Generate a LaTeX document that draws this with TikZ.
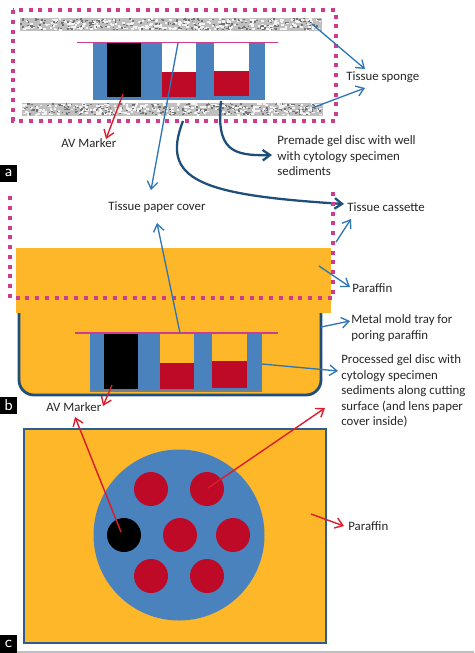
\documentclass[tikz,border=0pt]{standalone}
\usepackage{fontspec}
\setmainfont{Carlito}
\usetikzlibrary{arrows.meta}

\definecolor{waxorange}{HTML}{FDB728}
\definecolor{gelblue}{HTML}{4A82BE}
\definecolor{specred}{HTML}{BE0A26}
\definecolor{dotpink}{HTML}{CC3D8F}
\definecolor{darkblue}{HTML}{1F4E79}
\definecolor{arrowblue}{HTML}{2E75B6}
\definecolor{arrowred}{HTML}{D81E2C}

\tikzset{
  >={Straight Barb[length=4.2pt, width=6pt]},
  lab/.style={inner sep=0pt, anchor=west, align=left, text=black!85, font=\fontsize{7.3}{8.85}\selectfont},
  tag/.style={fill=black, text=white, inner sep=0pt, minimum width=17\pxu, minimum height=17\pxu, font=\sffamily\fontsize{9}{9}\selectfont},
  cassette/.style={dotpink, line width=2.3pt, dash pattern=on 2.3pt off 3.25pt},
  bluearrow/.style={->, arrowblue, line width=0.75pt},
  redarrow/.style={->, arrowred, line width=0.8pt},
  thickarrow/.style={->, darkblue, line width=1.3pt},
  cover/.style={dotpink, line width=0.6pt}
}
\newlength{\pxu}
\setlength{\pxu}{0.02cm}

% sponge bar: left, top, right, bottom
\newcommand{\spongebar}[4]{
  \fill[gray!50] (#1,#2) rectangle (#3,#4);
  \foreach \i in {1,...,520}{
    \pgfmathsetmacro{\dx}{#1+rnd*(#3-#1-3)}
    \pgfmathsetmacro{\dy}{#2+rnd*(#4-#2-2)}
    \pgfmathsetmacro{\sh}{int(mod(\i,2))}
    \ifnum\sh=0 \fill[white!90!gray] (\dx,\dy) rectangle ++(2.6,1.8);
    \else \fill[black!55] (\dx,\dy) rectangle ++(1.8,1.4); \fi
  }
}

% gel disc: left edge x, top y, height, then wells and their fill
\newcommand{\geldisc}[9]{
  \fill[gelblue] (#1,#2) rectangle ++(171.5,#3);
  \fill[black] (#4,#2) rectangle ++(34,#3-3);
  \fill[#9] (#5,#2) rectangle ++(34,#3-3);
  \fill[specred] (#5,#6) rectangle ++(34,#2+#3-3-#6);
  \fill[#9] (#7,#2) rectangle ++(35,#3-4);
  \fill[specred] (#7,#8) rectangle ++(35,#2+#3-4-#8);
}

\begin{document}
\begin{tikzpicture}[x=0.02cm, y=-0.02cm]
\useasboundingbox (0,0) rectangle (474,653);
\pgfmathsetseed{17}

% panel a
\spongebar{20}{18}{322}{31}
\spongebar{22}{103}{323}{116}
\geldisc{93}{43}{57}{107}{162}{72}{214}{71}{white}
\draw[cover] (77,42.5) -- (278,42.5);
\draw[cassette] (13,10) rectangle (336,121);

\node[lab] (sponge) at (346,77) {Tissue sponge};
\node[lab] (avA) at (61,143.5) {AV Marker};
\node[lab] (premade) at (277,156) {Premade gel disc with well\\with cytology specimen\\sediments};
\node[lab] (paper) at (108,207) {Tissue paper cover};
\node[lab] (cassettelab) at (347,207) {Tissue cassette};
\node[tag] (tagA) at (8.5,173) {a};

\coordinate (spongeT) at (312,24);
\coordinate (spongeB) at (312,108);
\coordinate (spongeTip1) at (365,69);
\coordinate (spongeTip2) at (365,88);
\coordinate (blackA) at (123,94);
\coordinate (avAtip) at (106,139);
\coordinate (coverA) at (178,43);
\coordinate (coverAtip) at (151,190);
\coordinate (wellA) at (221,101);
\coordinate (premadeTip) at (272,155);
\coordinate (cassA) at (183,121);
\coordinate (cassAtip) at (344,204);

\draw[bluearrow] (spongeT) -- (spongeTip1);
\draw[bluearrow] (spongeB) -- (spongeTip2);
\draw[redarrow] (blackA) -- (avAtip);
\draw[bluearrow] (coverA) -- (coverAtip);
\draw[thickarrow] (wellA) .. controls (216,150) and (232,156) .. (premadeTip);
\draw[thickarrow] (cassA) .. controls (160,180) and (200,195) .. (cassAtip);

% panel b
\draw[darkblue, line width=1.6pt, fill=waxorange, rounded corners=8.5pt] (19,300) -- (19,395) -- (321,395) -- (321,300);
\fill[waxorange] (16,248) rectangle (331,313);
\geldisc{90}{333}{59}{104}{160}{363}{212}{361}{waxorange}
\fill[gray!70!gelblue] (90,390) rectangle (261.5,392);
\draw[cover] (75,333) -- (278,333);
\draw[cassette] (333,192) -- (333,298) -- (10,298) -- (10,194);

\node[lab] (paraffinB) at (352,288) {Paraffin};
\node[lab] (metal) at (351,328) {Metal mold tray for\\poring paraffin};
\node[lab] (processed) at (341,391) {Processed gel disc with\\cytology specimen\\sediments along cutting\\surface (and lens paper\\cover inside)};
\node[lab] (avB) at (46,407) {AV Marker};
\node[tag] (tagB) at (8.5,405) {b};

\coordinate (coverB) at (180,333);
\coordinate (coverBtip) at (157,223);
\coordinate (cassB) at (336,242);
\coordinate (cassBtip) at (351,219);
\coordinate (waxB) at (319,266);
\coordinate (waxBtip) at (350,287);
\coordinate (tray) at (321,327);
\coordinate (trayTip) at (350,321);
\coordinate (gelB) at (262,364);
\coordinate (gelBtip) at (338,371);
\coordinate (blackB) at (112,385);
\coordinate (avBtip) at (103,406);

\draw[bluearrow] (coverB) -- (coverBtip);
\draw[bluearrow] (cassB) -- (cassBtip);
\draw[bluearrow] (waxB) -- (waxBtip);
\draw[bluearrow] (tray) -- (trayTip);
\draw[bluearrow] (gelB) -- (gelBtip);
\draw[redarrow] (blackB) -- (avBtip);

% panel c
\draw[darkblue!70!gelblue, line width=1pt, fill=waxorange] (24,429) rectangle (326,643);
\fill[gelblue] (179,535) circle (85.5);
\foreach \cx/\cy in {151/489, 207/489, 180/535, 233/535, 151/576, 207/576}
  \fill[specred] (\cx,\cy) circle (17);
\fill[black] (124,535) circle (17);

\node[lab] (paraffinC) at (348,526) {Paraffin};
\node[tag, minimum height=18\pxu] (tagC) at (8.5,644) {c};
\fill[gray!50] (17,651) rectangle (474,653);

\coordinate (blackC) at (121,532);
\coordinate (blackCtip) at (75,417);
\coordinate (wellC) at (208,488);
\coordinate (wellCtip) at (325,408);
\coordinate (waxC) at (311,514);
\coordinate (waxCtip) at (344,526);

\draw[redarrow] (blackC) -- (blackCtip);
\draw[redarrow] (wellC) -- (wellCtip);
\draw[redarrow] (waxC) -- (waxCtip);
\end{tikzpicture}
\end{document}
